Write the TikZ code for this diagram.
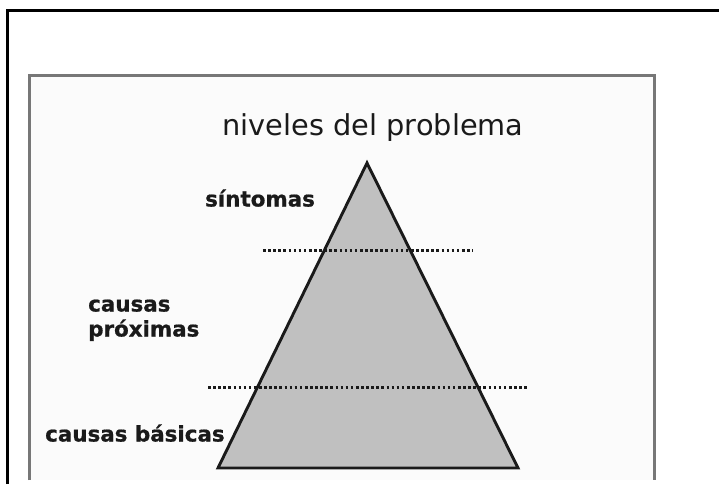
\documentclass[tikz,border=0pt]{standalone}
\usepackage{fontspec}
\setmainfont{DejaVu Sans}
\newfontfamily\heavylab{DejaVu Sans Bold}[FakeBold=0.8]
\definecolor{framegray}{HTML}{777777}
\definecolor{panelbg}{HTML}{FBFBFB}
\definecolor{pyrfill}{HTML}{C0C0C0}
\definecolor{txt}{HTML}{1A1A1A}
\begin{document}
\begin{tikzpicture}[x=1pt,y=-1pt,
  lab/.style={anchor=base west,inner sep=0pt,text=txt,font=\fontsize{21.4}{25}\heavylab},
  titlestyle/.style={anchor=base,inner sep=0pt,text=txt,font=\fontsize{28.8}{34}\selectfont},
  dotline/.style={line width=2.2pt,dash pattern=on 2.6pt off 2.5pt,color=txt}]
\useasboundingbox (0,0) rectangle (719,484);
\fill[white] (0,0) rectangle (719,484);
% outer black frame (cropped at right and bottom)
\draw[line width=2.5pt,black] (7.5,484) -- (7.5,10.5) -- (719,10.5);
% gray panel
\fill[panelbg] (29.5,75.5) rectangle (654.5,480);
\draw[line width=3pt,framegray] (29.5,480) -- (29.5,75.5) -- (654.5,75.5) -- (654.5,480);
% title
\node[titlestyle] (title) at (373,135) {niveles del problema};
% pyramid
\coordinate (apex) at (367,163);
\coordinate (bl) at (218,468);
\coordinate (br) at (518,468);
\draw[line width=2.9pt,draw=txt,fill=pyrfill,line join=miter] (apex) -- (br) -- (bl) -- cycle;
% dotted level lines
\coordinate (d1a) at (263,250.5);
\coordinate (d1b) at (473,250.5);
\coordinate (d2a) at (208,387.5);
\coordinate (d2b) at (528,387.5);
\draw[dotline] (d1a) -- (d1b);
\draw[dotline] (d2a) -- (d2b);
% labels
\node[lab] (sint) at (205,206.5) {síntomas};
\node[lab] (cp1) at (88,311.5) {causas};
\node[lab] (cp2) at (88,336.5) {próximas};
\node[lab] (cb) at (45,441.5) {causas básicas};
\end{tikzpicture}
\end{document}
